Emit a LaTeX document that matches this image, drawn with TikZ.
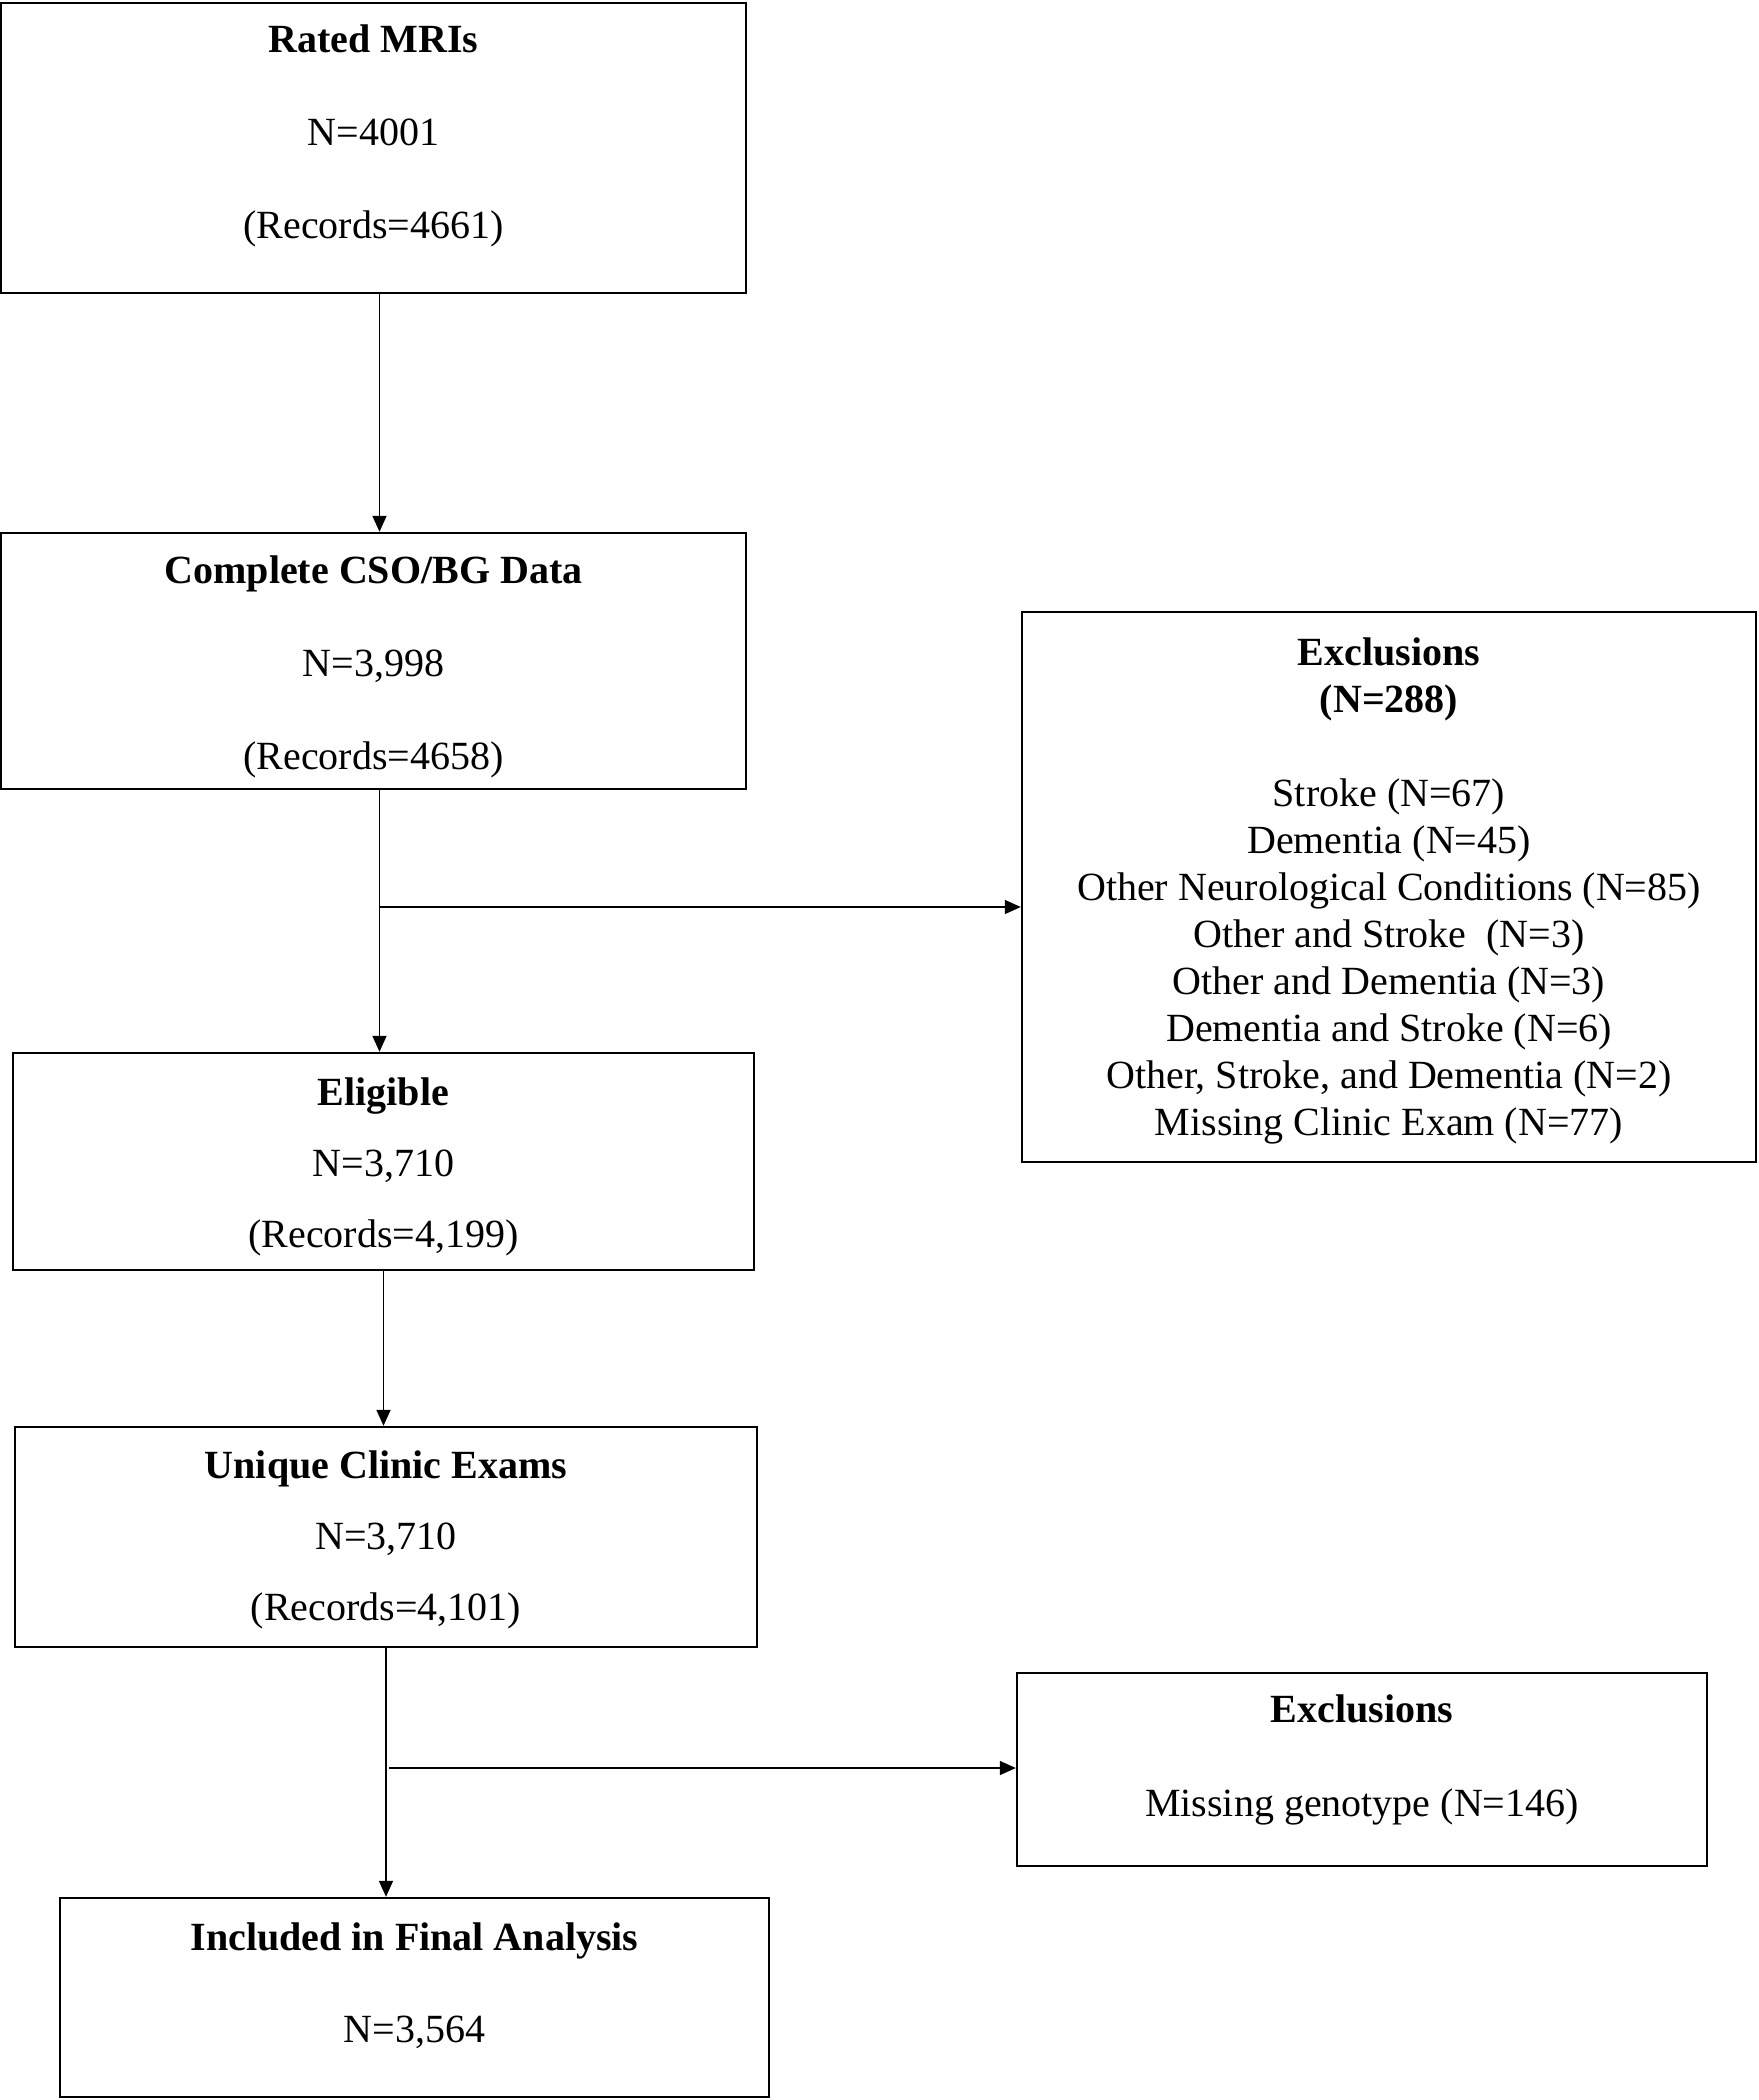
\documentclass[tikz,border=0pt]{standalone}
\usepackage{fontspec}
\setmainfont{Liberation Serif}
\usetikzlibrary{arrows.meta}

\begin{document}
\begin{tikzpicture}[x=0.5pt, y=-0.5pt,
    box/.style={draw, line width=1.2pt, align=center, inner sep=0pt,
        font=\fontsize{20}{23.5}\selectfont},
    arr/.style={line width=0.8pt, -{Triangle[length=8pt, width=7pt]}}]
    \useasboundingbox (0,0) rectangle (1759,2100);
    \node[box, minimum width=372.5pt, minimum height=145pt] (rated) at (373.5,148)
        {\textbf{Rated MRIs}\\[23pt] N=4001\\[23pt] (Records=4661)\rule[-16.3pt]{0pt}{0pt}};
    \node[box, minimum width=372.5pt, minimum height=128pt] (complete) at (373.5,661)
        {\rule{0pt}{20.2pt}\textbf{Complete CSO/BG Data}\\[23pt] N=3,998\\[23pt] (Records=4658)};
    \node[box, minimum width=370.5pt, minimum height=108.5pt] (eligible) at (383.5,1161.5)
        {\rule{0pt}{18.9pt}\textbf{Eligible}\\[12pt] N=3,710\\[12pt] (Records=4,199)};
    \node[box, minimum width=371pt, minimum height=110pt] (unique) at (386,1537)
        {\rule{0pt}{16.9pt}\textbf{Unique Clinic Exams}\\[12pt] N=3,710\\[12pt] (Records=4,101)};
    \node[box, minimum width=354.5pt, minimum height=99.5pt] (final) at (414.5,1997.5)
        {\textbf{Included in Final Analysis}\\[22.5pt] N=3,564\rule[-14.8pt]{0pt}{0pt}};
    \node[box, minimum width=367pt, minimum height=275pt] (exclA) at (1389,887)
        {\rule{0pt}{17.5pt}\textbf{Exclusions}\\ \textbf{(N=288)}\\[23.5pt]
         Stroke (N=67)\\ Dementia (N=45)\\ Other Neurological Conditions (N=85)\\
         Other and Stroke\ \ (N=3)\\ Other and Dementia (N=3)\\ Dementia and Stroke (N=6)\\
         Other, Stroke, and Dementia (N=2)\\ Missing Clinic Exam (N=77)};
    \node[box, minimum width=345pt, minimum height=96.5pt] (exclB) at (1362,1769.5)
        {\textbf{Exclusions}\\[23.5pt] Missing genotype (N=146)\rule[-13.7pt]{0pt}{0pt}};
    \coordinate (branchA) at (380,907);
    \coordinate (branchB) at (389,1768);
    \draw[arr] ([xshift=3pt]rated.south) -- ([xshift=3pt]rated.south |- complete.north);
    \draw[arr] ([xshift=3pt]complete.south) -- ([xshift=3pt]complete.south |- eligible.north);
    \draw[arr] (eligible.south) -- (eligible.south |- unique.north);
    \draw[arr] (unique.south) -- (unique.south |- final.north);
    \draw[arr] (branchA) -- (branchA -| exclA.west);
    \draw[arr] (branchB) -- (branchB -| exclB.west);
\end{tikzpicture}
\end{document}
